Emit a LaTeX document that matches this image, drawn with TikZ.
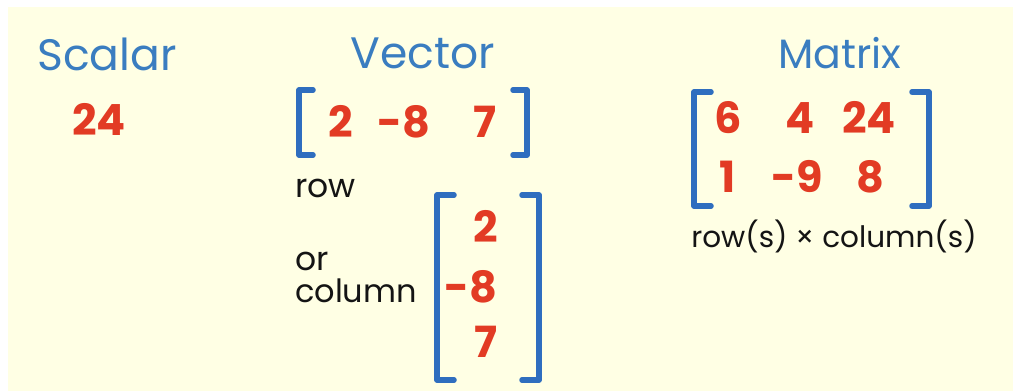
\documentclass[tikz,border=0pt]{standalone}
\usepackage{fontspec}
\setmainfont{Poppins}
\definecolor{bgyellow}{HTML}{FFFFE4}
\definecolor{titleblue}{HTML}{3A7DC0}
\definecolor{brackblue}{HTML}{2F6EBF}
\definecolor{numred}{HTML}{E23B24}
\definecolor{txtblack}{HTML}{141414}
\begin{document}
\begin{tikzpicture}[x=1pt,y=-1pt,
  title/.style={text=titleblue, inner sep=0pt, anchor=base, font=\fontsize{44}{48}\selectfont},
  num/.style={text=numred, inner sep=0pt, anchor=base, font=\fontsize{43}{46}\selectfont\bfseries},
  lbl/.style={text=txtblack, inner sep=0pt, anchor=base west, font=\fontsize{33}{38}\selectfont},
  brk/.style={draw=brackblue, line width=5.5pt, line cap=round, line join=round}]
\useasboundingbox (0,0) rectangle (1013,391);
\fill[white] (0,0) rectangle (1013,391);
\fill[bgyellow] (8,7) rectangle (1013,391);
% titles
\node[title] (scalar) at (107,70) {Scalar};
\node[title] (vector) at (423,68) {Vector};
\node[title, font=\fontsize{41}{46}\selectfont] (matrix) at (840,68) {Matrix};
% scalar
\node[num] (s24) at (99,135) {24};
% row vector
\draw[brk] (313,90) -- (299,90) -- (299,155) -- (313,155);
\draw[brk] (513,90) -- (527,90) -- (527,155) -- (513,155);
\node[num] (r1) at (341,137) {2};
\node[num] (r2) at (404,137) {-8};
\node[num] (r3) at (485,137) {7};
\node[lbl] (row) at (295,197) {row};
\node[lbl] (or) at (295,270) {or};
\node[lbl, font=\fontsize{32}{38}\selectfont] (column) at (295,302) {column};
% column vector
\draw[brk] (454,195) -- (437,195) -- (437,380) -- (454,380);
\draw[brk] (522,195) -- (539,195) -- (539,380) -- (522,380);
\node[num, anchor=base east] (c1) at (498,242) {2};
\node[num, anchor=base east] (c2) at (498,302) {-8};
\node[num, anchor=base east] (c3) at (498,357) {7};
% matrix
\draw[brk] (711,92) -- (694,92) -- (694,206) -- (711,206);
\draw[brk] (912,92) -- (929,92) -- (929,206) -- (912,206);
\node[num] (m11) at (728,133) {6};
\node[num] (m12) at (800,133) {4};
\node[num] (m13) at (869,133) {24};
\node[num] (m21) at (728,192) {1};
\node[num] (m22) at (797,192) {-9};
\node[num] (m23) at (870,192) {8};
\node[lbl, anchor=base, font=\fontsize{29.5}{34}\selectfont] (dims) at (834,247) {row(s) × column(s)};
\end{tikzpicture}
\end{document}
